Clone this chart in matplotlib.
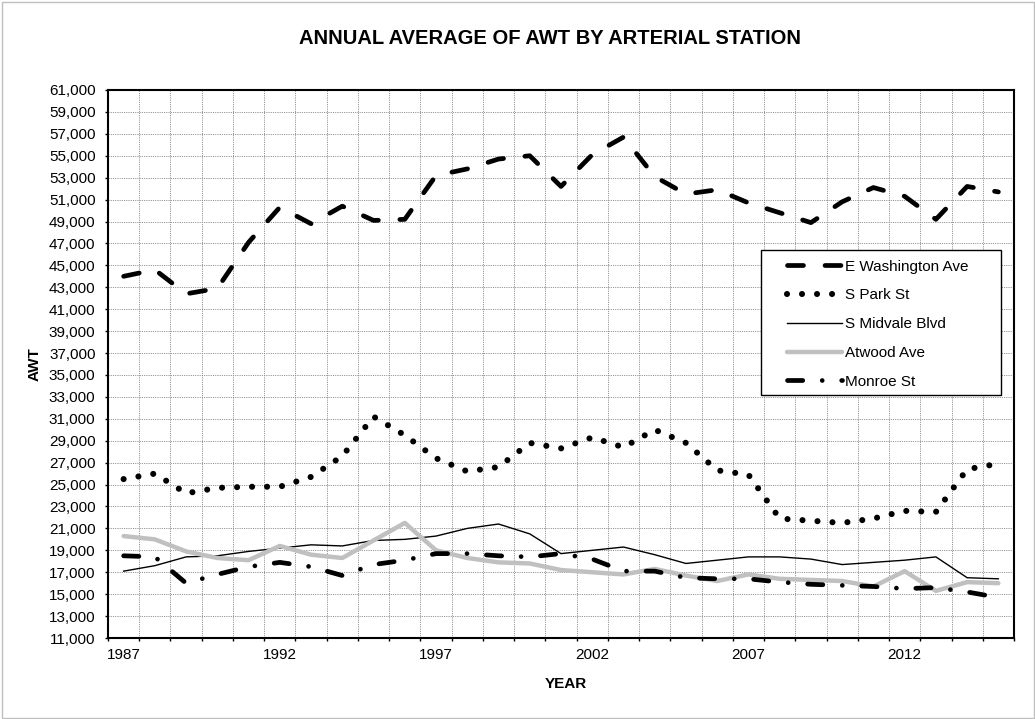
import matplotlib
matplotlib.use('Agg')
import matplotlib.pyplot as plt
from matplotlib.patches import Rectangle
from matplotlib.ticker import FixedLocator, MultipleLocator, FuncFormatter

plt.rcParams['font.family'] = ['Liberation Sans', 'DejaVu Sans']
plt.rcParams['lines.scale_dashes'] = False

# Annual average AWT per arterial station, 1987-2015
years = [1987, 1988, 1989, 1990, 1991, 1992, 1993, 1994, 1995, 1996,
         1997, 1998, 1999, 2000, 2001, 2002, 2003, 2004, 2005, 2006,
         2007, 2008, 2009, 2010, 2011, 2012, 2013, 2014, 2015]

e_washington = [44000, 44600, 42400, 42900, 47100, 50300, 48800, 50400, 49100, 49200,
                53200, 53800, 54700, 55000, 52200, 55100, 56700, 53100, 51500, 51900,
                50700, 49800, 48900, 50800, 52100, 51300, 49200, 52200, 51700]
s_park = [25500, 26000, 24200, 24700, 24800, 24800, 25700, 27600, 31200, 29500,
          27400, 26200, 26600, 28800, 28300, 29300, 28400, 30000, 28800, 26300,
          25900, 21900, 21700, 21500, 21900, 22600, 22500, 26400, 26900]
s_midvale = [17100, 17600, 18400, 18500, 18900, 19200, 19500, 19400, 19900, 20000,
             20300, 21000, 21400, 20500, 18700, 19000, 19300, 18600, 17800, 18100,
             18400, 18400, 18200, 17700, 17900, 18100, 18400, 16500, 16400]
atwood = [20300, 20000, 18900, 18300, 18100, 19400, 18600, 18300, 19900, 21500,
          19000, 18300, 17900, 17800, 17200, 17000, 16800, 17300, 16700, 16200,
          16800, 16400, 16300, 16200, 15700, 17100, 15300, 16100, 16000]
monroe = [18500, 18400, 16000, 16800, 17500, 17900, 17500, 16700, 17700, 18100,
          18700, 18700, 18500, 18400, 18700, 18200, 17100, 17100, 16500, 16400,
          16400, 16100, 15900, 15800, 15700, 15500, 15600, 15200, 14700]

labels = ['E Washington Ave', 'S Park St', 'S Midvale Blvd', 'Atwood Ave', 'Monroe St']
y_ticks = [11000, 13000, 15000, 17000, 19000, 21000, 23000, 25000, 27000, 29000, 31000,
           33000, 35000, 37000, 39000, 41000, 43000, 45000, 47000, 49000, 51000, 53000,
           55000, 57000, 59000, 61000]
x_labels = [1987, 1992, 1997, 2002, 2007, 2012]

W, H = 1035, 719
fig = plt.figure(figsize=(W / 100, H / 100), dpi=100)
ax = fig.add_axes([108 / W, 1 - 638 / H, (1014 - 108) / W, (638 - 90) / H])

ax.plot(years, e_washington, color='black', lw=3.4, linestyle=(0, (11.5, 15.5)),
        dash_capstyle='round', label=labels[0])
ax.plot(years, s_park, color='black', lw=4.4, linestyle=(0, (0.01, 10.8)),
        dash_capstyle='round', label=labels[1])
ax.plot(years, s_midvale, color='black', lw=1.0, label=labels[2])
ax.plot(years, atwood, color='#c0c0c0', lw=3.2, solid_capstyle='round', label=labels[3])
ax.plot(years, monroe, color='black', lw=3.4, linestyle=(0, (11, 14, 0.01, 14)),
        dash_capstyle='round', label=labels[4])

# axes / ticks
ax.set_xlim(1986.5, 2015.5)
ax.set_ylim(11000, 61000)
ax.yaxis.set_major_locator(FixedLocator(y_ticks))
ax.yaxis.set_major_formatter(FuncFormatter(lambda v, p: f'{v:,.0f}'))
ax.xaxis.set_major_locator(FixedLocator(x_labels))
ax.xaxis.set_minor_locator(MultipleLocator(1, offset=0.5))
ax.tick_params(axis='x', which='major', length=0, pad=7.5, labelsize=11)
ax.tick_params(axis='x', which='minor', length=2.5, width=1, direction='out')
ax.tick_params(axis='y', which='major', length=2.5, width=1, pad=6.5, labelsize=11)

ax.grid(which='minor', axis='x', color='#808080', lw=0.6, linestyle=(0, (0.8, 0.8)))
ax.grid(which='major', axis='y', color='#808080', lw=0.6, linestyle=(0, (0.8, 0.8)))
ax.set_axisbelow(True)
for s in ax.spines.values():
    s.set_linewidth(1.5)
    s.set_color('black')

# legend box and entries
fig.add_artist(Rectangle((760.7 / W, 1 - 395 / H), 240 / W, 145 / H, transform=fig.transFigure,
                         facecolor='white', edgecolor='black', lw=1, zorder=1))
handles, lbls = ax.get_legend_handles_labels()
fig.legend(handles, lbls, loc='upper left', bbox_to_anchor=(787 / W, 1 - 259.5 / H),
           bbox_transform=fig.transFigure, frameon=False, fontsize=11, borderpad=0,
           borderaxespad=0, handlelength=3.6, handletextpad=0.2, labelspacing=0.97)

# titles
fig.text(550 / W, 1 - 38.5 / H, 'ANNUAL AVERAGE OF AWT BY ARTERIAL STATION',
         ha='center', va='center', fontsize=14.5, fontweight='bold')
fig.text(35 / W, 1 - 364 / H, 'AWT', rotation=90, ha='center', va='center',
         fontsize=11, fontweight='bold')
fig.text(566 / W, 1 - 684 / H, 'YEAR', ha='center', va='center', fontsize=11, fontweight='bold')

# outer chart border
fig.add_artist(Rectangle((1.5 / W, 1.5 / H), (W - 3) / W, (H - 3) / H, transform=fig.transFigure,
                         fill=False, edgecolor='#bfbfbf', lw=1, zorder=0))

fig.savefig('out.png', dpi=100)
